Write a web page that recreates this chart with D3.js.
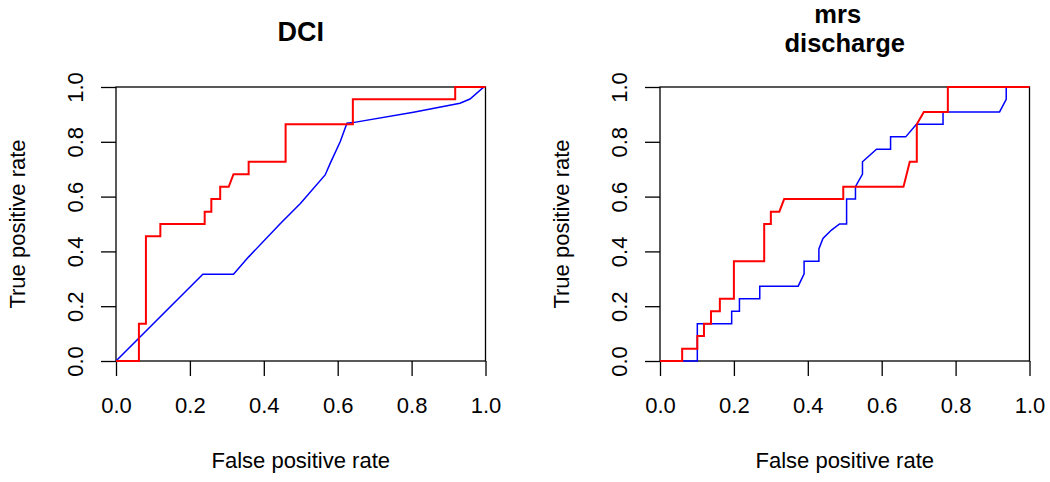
<!DOCTYPE html>
<html>
<head>
<meta charset="utf-8">
<script src="https://cdn.jsdelivr.net/npm/d3@7"></script>
<style>
  html, body { margin: 0; padding: 0; background: #fff; }
  text { font-family: "Liberation Sans", Arial, sans-serif; fill: #000; }
</style>
</head>
<body>
<svg id="chart" width="1050" height="482"></svg>
<script>
// ---- data ----
const tickValues = [0, 0.2, 0.4, 0.6, 0.8, 1.0];
const tickLabels = ["0.0", "0.2", "0.4", "0.6", "0.8", "1.0"];
const xLabel = "False positive rate";
const yLabel = "True positive rate";

const dciTitle = ["DCI"];
const mrsTitle = ["mrs", "discharge"];

// DCI panel: [false positive rate, true positive rate]
const dciRed = [[0,0],[0.062,0],[0.062,0.136],[0.081,0.136],[0.081,0.455],[0.120,0.455],[0.120,0.5],
  [0.240,0.5],[0.240,0.545],[0.258,0.545],[0.258,0.591],[0.282,0.591],[0.282,0.636],[0.305,0.636],
  [0.318,0.682],[0.359,0.682],[0.359,0.727],[0.459,0.727],[0.459,0.864],[0.641,0.864],[0.641,0.955],
  [0.918,0.955],[0.918,1],[1,1]];
const dciBlue = [[0,0],[0.235,0.317],[0.318,0.317],[0.359,0.38],[0.445,0.502],[0.499,0.575],
  [0.566,0.679],[0.580,0.722],[0.607,0.801],[0.625,0.868],[0.641,0.870],[0.805,0.908],
  [0.931,0.941],[0.958,0.956],[0.994,0.998],[1,1]];

// mrs discharge panel
const mrsRed = [[0,0],[0.060,0],[0.060,0.045],[0.101,0.045],[0.101,0.091],[0.119,0.091],[0.119,0.136],
  [0.138,0.136],[0.138,0.182],[0.162,0.182],[0.162,0.227],[0.2,0.227],[0.2,0.364],[0.282,0.364],
  [0.282,0.5],[0.3,0.5],[0.3,0.545],[0.323,0.545],[0.336,0.591],[0.496,0.591],[0.496,0.636],
  [0.659,0.636],[0.676,0.727],[0.695,0.727],[0.695,0.864],[0.714,0.909],[0.779,0.909],[0.779,1],[1,1]];
const mrsBlue = [[0,0],[0.101,0],[0.101,0.136],[0.194,0.136],[0.194,0.182],[0.215,0.182],[0.215,0.227],
  [0.270,0.227],[0.270,0.273],[0.374,0.273],[0.390,0.318],[0.390,0.364],[0.430,0.364],[0.430,0.409],
  [0.441,0.447],[0.464,0.478],[0.486,0.5],[0.505,0.5],[0.505,0.591],[0.529,0.591],[0.529,0.636],
  [0.548,0.682],[0.548,0.727],[0.586,0.773],[0.624,0.773],[0.624,0.818],[0.665,0.818],[0.694,0.864],
  [0.766,0.864],[0.766,0.909],[0.919,0.909],[0.937,0.955],[0.937,1],[1,1]];

// ---- layout ----
const svg = d3.select("#chart");
svg.append("rect").attr("width", 1050).attr("height", 482).attr("fill", "#fff");

const yTop = 87, yBottom = 361;
const panels = [
  { title: dciTitle, red: dciRed, blue: dciBlue, left: 116, right: 485.5, titleY: [41], titleDx: [0], titleSize: 27 },
  { title: mrsTitle, red: mrsRed, blue: mrsBlue, left: 660, right: 1029.5, titleY: [23.3, 52], titleDx: [-7, 0], titleSize: 25.5 }
];

panels.forEach(p => {
  const x = d3.scaleLinear().domain([0, 1]).range([p.left, p.right]);
  const y = d3.scaleLinear().domain([0, 1]).range([yBottom, yTop]);
  const g = svg.append("g");

  // x axis
  const xAxis = d3.axisBottom(x).tickValues(tickValues)
    .tickFormat((d, i) => tickLabels[i]).tickSizeInner(15).tickSizeOuter(0).tickPadding(20);
  const gx = g.append("g").attr("transform", `translate(0,${yBottom})`).call(xAxis);
  gx.select(".domain").remove();
  gx.selectAll("line").attr("stroke", "#000").attr("stroke-width", 1.3);
  gx.selectAll("text").attr("font-size", 22).attr("dy", null).attr("y", 51.5).attr("font-family", "Liberation Sans, Arial, sans-serif");

  // y axis
  const yAxis = d3.axisLeft(y).tickValues(tickValues)
    .tickFormat((d, i) => tickLabels[i]).tickSizeInner(15).tickSizeOuter(0);
  const gy = g.append("g").attr("transform", `translate(${p.left},0)`).call(yAxis);
  gy.select(".domain").remove();
  gy.selectAll("line").attr("stroke", "#000").attr("stroke-width", 1.3);
  gy.selectAll("text")
    .attr("font-size", 22).attr("font-family", "Liberation Sans, Arial, sans-serif")
    .attr("x", null).attr("dy", null).attr("text-anchor", "middle")
    .attr("transform", "translate(-33,0) rotate(-90)");

  // box
  g.append("rect").attr("x", p.left).attr("y", yTop)
    .attr("width", p.right - p.left).attr("height", yBottom - yTop)
    .attr("fill", "none").attr("stroke", "#000").attr("stroke-width", 1.3);

  // curves
  const line = d3.line().x(d => x(d[0])).y(d => y(d[1]));
  g.append("path").datum(p.blue).attr("d", line)
    .attr("fill", "none").attr("stroke", "#0000ff").attr("stroke-width", 1.5);
  g.append("path").datum(p.red).attr("d", line)
    .attr("fill", "none").attr("stroke", "#ff0000").attr("stroke-width", 2);

  // axis titles
  const cx = (p.left + p.right) / 2;
  g.append("text").attr("x", cx).attr("y", 468).attr("text-anchor", "middle")
    .attr("font-size", 22).text(xLabel);
  g.append("text").attr("transform", `translate(${p.left - 91},${(yTop + yBottom) / 2}) rotate(-90)`)
    .attr("text-anchor", "middle").attr("font-size", 22).text(yLabel);

  // main title
  p.title.forEach((t, i) => {
    g.append("text").attr("x", cx + p.titleDx[i]).attr("y", p.titleY[i])
      .attr("text-anchor", "middle").attr("font-size", p.titleSize).attr("font-weight", "bold").text(t);
  });
});
</script>
</body>
</html>
